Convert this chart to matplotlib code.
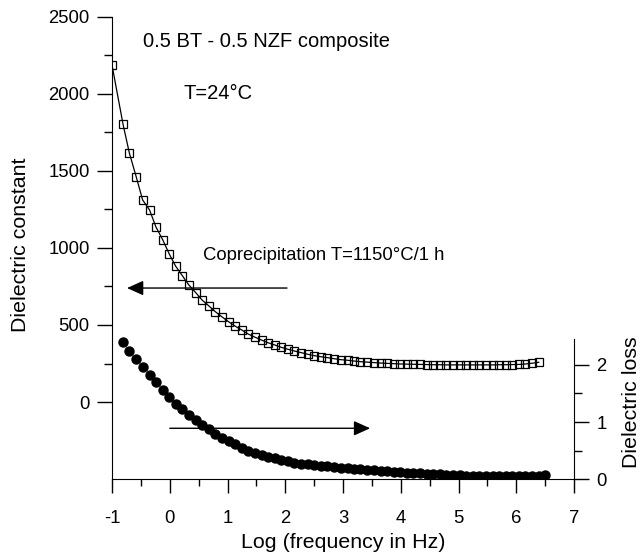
import matplotlib
matplotlib.use("Agg")
import matplotlib.pyplot as plt
import matplotlib.ticker as ticker

plt.rcParams['font.family'] = ['Liberation Sans', 'DejaVu Sans']
plt.rcParams['axes.unicode_minus'] = False

# log(frequency) grid
log_f = [-0.81, -0.70, -0.58, -0.47, -0.35, -0.24, -0.12, -0.01, 0.10, 0.22,
         0.33, 0.45, 0.56, 0.68, 0.79, 0.90, 1.02, 1.13, 1.25, 1.36,
         1.48, 1.59, 1.70, 1.82, 1.93, 2.05, 2.16, 2.28, 2.39, 2.50,
         2.62, 2.73, 2.85, 2.96, 3.08, 3.19, 3.30, 3.42, 3.53, 3.65,
         3.76, 3.88, 3.99, 4.10, 4.22, 4.33, 4.45, 4.56, 4.68, 4.79,
         4.90, 5.02, 5.13, 5.25, 5.36, 5.48, 5.59, 5.70, 5.82, 5.93,
         6.05, 6.16, 6.28, 6.39, 6.50]

# dielectric constant (squares), first point at log f = -1
eps_x = [-1.0] + log_f[:64]
eps = [2188, 1805, 1617, 1461, 1312, 1247, 1137, 1052, 962, 883,
       819, 760, 710, 662, 623, 586, 554, 521, 493, 467,
       441, 420, 402, 385, 370, 355, 342, 331, 320, 310,
       301, 294, 288, 281, 275, 271, 266, 262, 259, 256,
       253, 251, 249, 247, 246, 245, 244, 243, 242, 242,
       241, 241, 241, 241, 241, 241, 241, 241, 242, 242,
       243, 244, 247, 252, 258]

# dielectric loss (circles)
loss = [2.40, 2.24, 2.11, 1.97, 1.83, 1.70, 1.57, 1.44, 1.32, 1.22,
        1.13, 1.04, 0.95, 0.87, 0.79, 0.72, 0.66, 0.61, 0.55, 0.50,
        0.46, 0.42, 0.39, 0.36, 0.33, 0.31, 0.28, 0.27, 0.26, 0.25,
        0.23, 0.22, 0.21, 0.20, 0.19, 0.18, 0.17, 0.16, 0.15, 0.14,
        0.135, 0.13, 0.12, 0.11, 0.105, 0.10, 0.09, 0.085, 0.08, 0.075,
        0.07, 0.065, 0.06, 0.055, 0.05, 0.05, 0.045, 0.045, 0.045, 0.045,
        0.045, 0.05, 0.055, 0.06, 0.07]

fig = plt.figure(figsize=(6.43, 5.53), dpi=100)
ax = fig.add_axes([0.1742, 0.1338, 0.7185, 0.8355])
ax2 = ax.twinx()

ax.plot(eps_x, eps, "-s", color="k", lw=0.9, ms=5.4, mfc="none", mec="k", mew=0.9)
ax2.plot(log_f, loss, "o", color="k", ms=6.5, mec="k")

ax.set_xlim(-1, 7)
ax.set_ylim(-500, 2500)
ax2.set_ylim(0, 8.105)

for s in ["top", "right"]:
    ax.spines[s].set_visible(False)
for s in ["top", "left", "bottom"]:
    ax2.spines[s].set_visible(False)
ax2.spines["right"].set_bounds(0, 2.45)

ax.xaxis.set_major_locator(ticker.MultipleLocator(1))
ax.xaxis.set_minor_locator(ticker.MultipleLocator(0.5))
ax.set_yticks([0, 500, 1000, 1500, 2000, 2500])
ax.set_yticks([250, 750, 1250, 1750, 2250], minor=True)
ax2.set_yticks([0, 1, 2])
ax2.set_yticks([0.5, 1.5], minor=True)

ax.tick_params(axis="x", which="major", direction="out", length=10, width=1, pad=12, labelsize=13.3)
ax.tick_params(axis="x", which="minor", direction="out", length=5, width=1)
ax.tick_params(axis="y", which="major", direction="out", length=11, width=1, pad=5, labelsize=13.3)
ax.tick_params(axis="y", which="minor", direction="out", length=6, width=1)
ax2.tick_params(axis="y", which="major", direction="out", length=11, width=1, pad=5, labelsize=13.3)
ax2.tick_params(axis="y", which="minor", direction="out", length=6, width=1)

ax.set_xlabel("Log (frequency in Hz)", fontsize=15.4)
ax.xaxis.set_label_coords(0.5, -0.117)
ax.set_ylabel("Dielectric constant", fontsize=15.4, va="center")
ax.yaxis.set_label_coords(-0.199, 0.506)
ax2.set_ylabel("Dielectric loss", fontsize=15.4, va="baseline")
ax2.yaxis.set_label_coords(1.136, 0.167)

ax.text(-0.46, 2307, "0.5 BT - 0.5 NZF composite", fontsize=14.5, ha="left", va="baseline")
ax.text(0.23, 1967, "T=24\u00b0C", fontsize=14.5, ha="left", va="baseline")
ax.text(0.58, 924, "Coprecipitation T=1150\u00b0C/1 h", fontsize=13.3, ha="left", va="baseline")

arrow = dict(arrowstyle="-|>,head_length=1,head_width=0.45", mutation_scale=10,
             lw=1, color="k", shrinkA=0, shrinkB=0)
ax.annotate("", xy=(-0.74, 740), xytext=(2.03, 740), arrowprops=arrow)
ax2.annotate("", xy=(3.47, 0.89), xytext=(0.0, 0.89), arrowprops=arrow)

plt.savefig("out.png", dpi=100)
